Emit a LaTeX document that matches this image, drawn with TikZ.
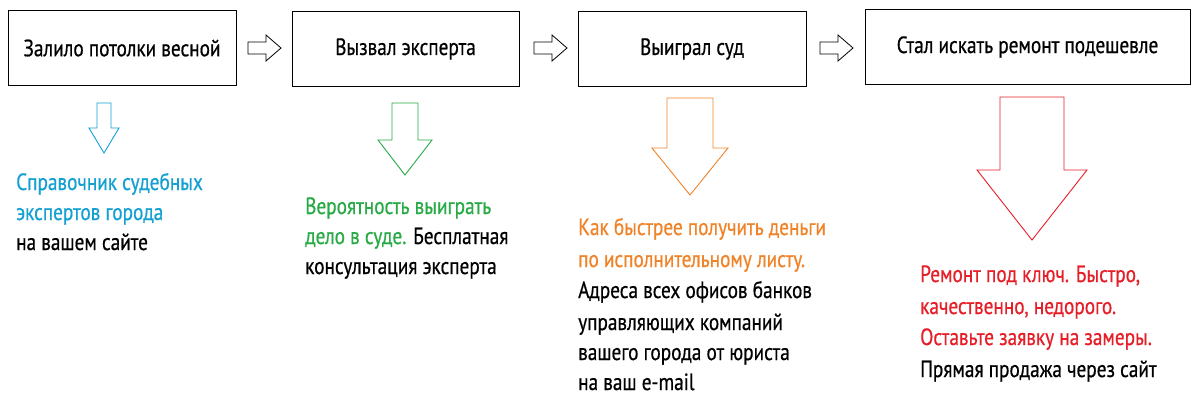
\documentclass[tikz,border=0pt]{standalone}
\usepackage{fontspec}
\setmainfont[FakeStretch=0.82,FakeBold=0.6]{PT Sans}
\definecolor{cb}{RGB}{20,160,210}
\definecolor{cg}{RGB}{40,170,70}
\definecolor{co}{RGB}{240,130,40}
\definecolor{cr}{RGB}{230,30,40}
\begin{document}
\begin{tikzpicture}[x=1pt,y=-1pt,
 box/.style={draw,line width=0.9pt,minimum height=75pt,font=\fontsize{23.5}{26}\selectfont},
 txt/.style={anchor=base west,inner sep=0pt,font=\fontsize{23.5}{26}\selectfont},
 rarr/.style={draw,line width=0.8pt,fill=white}]
\useasboundingbox (0,0) rectangle (1200,408);
\node[box,minimum width=228pt] (b1) at (122,48) {Залило потолки весной};
\node[box,minimum width=227pt] (b2) at (405.5,49) {Вызвал эксперта};
\node[box,minimum width=228pt] (b3) at (692,49) {Выиграл суд};
\node[box,minimum width=325pt] (b4) at (1027.5,47) {Стал искать ремонт подешевле};
% right arrows
\foreach \x in {248,534,820}{
 \draw[rarr] (\x,42)--(\x+18,42)--(\x+18,35)--(\x+33,48)--(\x+18,61)--(\x+18,54)--(\x,54)--cycle;}
% down arrows
\draw[cb,line width=0.9pt] (97,103)--(111,103)--(111,128)--(119,128)--(104,153)--(89,128)--(97,128)--cycle;
\draw[cg,line width=0.9pt] (392,103)--(418,103)--(418,140)--(432,140)--(405,175)--(378,140)--(392,140)--cycle;
\draw[co,line width=0.9pt] (667,98)--(713,98)--(713,148)--(728,148)--(690,195)--(652,148)--(667,148)--cycle;
\draw[cr,line width=0.9pt] (1000,97)--(1064,97)--(1064,170)--(1087,170)--(1032,240)--(977,170)--(1000,170)--cycle;
% texts
\node[txt,cb] (t11) at (16,190) {Справочник судебных};
\node[txt,cb] (t12) at (16,220) {экспертов города};
\node[txt] (t13) at (16,250) {на вашем сайте};
\node[txt,cg] (t21) at (305,214) {Вероятность выиграть};
\node[txt] (t22) at (305,244) {\textcolor{cg}{дело в суде.} Бесплатная};
\node[txt] (t23) at (305,274) {консультация эксперта};
\node[txt,co] (t31) at (578,235) {Как быстрее получить деньги};
\node[txt,co] (t32) at (578,267) {по исполнительному листу.};
\node[txt] (t33) at (578,298) {Адреса всех офисов банков};
\node[txt] (t34) at (578,330) {управляющих компаний};
\node[txt] (t35) at (578,360) {вашего города от юриста};
\node[txt] (t36) at (578,390) {на ваш e-mail};
\node[txt,cr] (t41) at (920,282) {Ремонт под ключ. Быстро,};
\node[txt,cr] (t42) at (920,314) {качественно, недорого.};
\node[txt,cr] (t43) at (920,345) {Оставьте заявку на замеры.};
\node[txt] (t44) at (920,377) {Прямая продажа через сайт};
\end{tikzpicture}
\end{document}
